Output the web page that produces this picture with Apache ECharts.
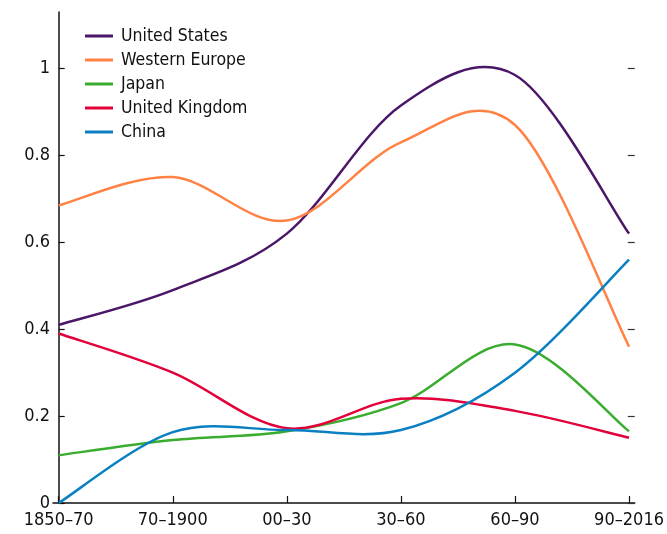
<!DOCTYPE html>
<html>
<head>
<meta charset="utf-8">
<script src="https://cdn.jsdelivr.net/npm/echarts@6/dist/echarts.min.js"></script>
<style>
  html, body { margin: 0; padding: 0; background: #fff; }
  #chart { width: 667px; height: 534px; }
</style>
</head>
<body>
<div id="chart"></div>
<script>
// periods on the x axis
const periods = ['1850\u201370', '70\u20131900', '00\u201330', '30\u201360', '60\u201390', '90\u20132016'];

const unitedStates  = [0.41, 0.49, 0.62, 0.915, 0.985, 0.62];
const westernEurope = [0.685, 0.75, 0.65, 0.83, 0.87, 0.36];
const japan         = [0.11, 0.145, 0.165, 0.23, 0.365, 0.165];
const unitedKingdom = [0.39, 0.30, 0.172, 0.24, 0.212, 0.15];
const china         = [0.0, 0.163, 0.168, 0.168, 0.3, 0.56];

const yTicks = [0, 0.2, 0.4, 0.6, 0.8, 1];

const FONT = '"DejaVu Sans Condensed", "Liberation Sans", Arial, sans-serif';

// smooth line through the data points (catmull-rom, drawn as bezier segments)
function line(name, vals, color) {
  return {
    name: name,
    type: 'custom',
    data: vals.map((v, i) => [i, v]),
    itemStyle: { color: color },
    renderItem: function (params, api) {
      if (params.dataIndex !== 0) return null;
      const p = vals.map((v, i) => api.coord([i, v]));
      let d = 'M' + p[0][0] + ' ' + p[0][1];
      for (let i = 0; i < p.length - 1; i++) {
        const p0 = p[Math.max(i - 1, 0)];
        const p1 = p[i];
        const p2 = p[i + 1];
        const p3 = p[Math.min(i + 2, p.length - 1)];
        const c1 = [p1[0] + (p2[0] - p0[0]) / 6, p1[1] + (p2[1] - p0[1]) / 6];
        const c2 = [p2[0] - (p3[0] - p1[0]) / 6, p2[1] - (p3[1] - p1[1]) / 6];
        d += ' C' + c1[0] + ' ' + c1[1] + ' ' + c2[0] + ' ' + c2[1] + ' ' + p2[0] + ' ' + p2[1];
      }
      return {
        type: 'path',
        shape: { pathData: d },
        style: { fill: 'none', stroke: color, lineWidth: 2.5 }
      };
    }
  };
}

const chart = echarts.init(document.getElementById('chart'));

chart.setOption({
  animation: false,
  backgroundColor: '#fff',
  grid: { left: 53, right: 31, top: 12, bottom: 31 },
  legend: {
    orient: 'vertical',
    left: 80,
    top: 21,
    icon: 'rect',
    itemWidth: 28,
    itemHeight: 3,
    itemGap: 4,
    textStyle: { fontFamily: FONT, fontSize: 17.5, color: '#111', lineHeight: 20, padding: [0, 0, 0, 3] },
    data: ['United States', 'Western Europe', 'Japan', 'United Kingdom', 'China']
  },
  xAxis: {
    type: 'value',
    min: -0.05,
    max: 5.05,
    splitLine: { show: false },
    axisLine: { show: true, lineStyle: { color: '#111', width: 1.5 } },
    axisTick: {
      show: true, inside: true, length: 7,
      customValues: [0, 1, 2, 3, 4, 5],
      lineStyle: { color: '#111', width: 1.2 }
    },
    axisLabel: {
      customValues: [0, 1, 2, 3, 4, 5],
      formatter: v => periods[Math.round(v)],
      fontFamily: FONT, fontSize: 18, color: '#111', margin: 8
    }
  },
  yAxis: [
    {
      type: 'value',
      min: 0,
      max: 1.13,
      position: 'left',
      splitLine: { show: false },
      axisLine: { show: true, lineStyle: { color: '#111', width: 1.5 } },
      axisTick: {
        show: true, inside: true, length: 6,
        customValues: yTicks,
        lineStyle: { color: '#111', width: 1.2 }
      },
      axisLabel: {
        customValues: yTicks,
        formatter: v => String(+v.toFixed(1)),
        fontFamily: FONT, fontSize: 18, color: '#111', margin: 3
      }
    },
    {
      type: 'value',
      min: 0,
      max: 1.13,
      position: 'right',
      splitLine: { show: false },
      axisLine: { show: false },
      axisTick: {
        show: true, inside: true, length: 7,
        customValues: yTicks,
        lineStyle: { color: '#333', width: 1.2 }
      },
      axisLabel: { show: false }
    }
  ],
  series: [
    line('United States', unitedStates, '#4a1668'),
    line('Western Europe', westernEurope, '#ff8244'),
    line('Japan', japan, '#3aad2e'),
    line('United Kingdom', unitedKingdom, '#e3003a'),
    line('China', china, '#0a80c2')
  ]
});
</script>
</body>
</html>
